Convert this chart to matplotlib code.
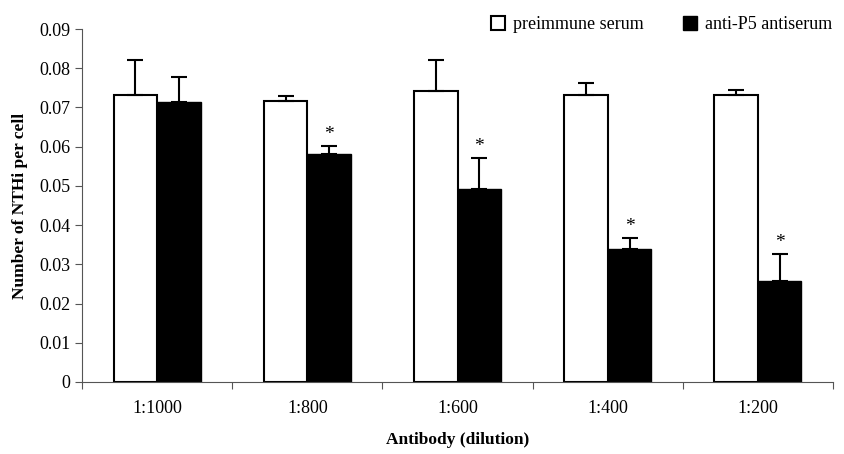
import numpy as np
import matplotlib
matplotlib.use('Agg')
import matplotlib.pyplot as plt

plt.rcParams['font.family'] = ['Liberation Serif', 'DejaVu Serif']

dilutions = ['1:1000', '1:800', '1:600', '1:400', '1:200']
preimmune = [0.0731, 0.0717, 0.0742, 0.0733, 0.0732]
preimmune_err = [0.0089, 0.0012, 0.0078, 0.0030, 0.0013]
anti_p5 = [0.0714, 0.0581, 0.0492, 0.0339, 0.0258]
anti_p5_err = [0.0064, 0.0021, 0.0079, 0.0029, 0.0069]
significant = [False, True, True, True, True]

x = np.arange(len(dilutions))
w = 0.29

fig = plt.figure(figsize=(8.44, 4.54), dpi=100)
ax = fig.add_axes([0.0972, 0.1586, 0.8898, 0.7774])

ekw = dict(elinewidth=1.5, capsize=6, capthick=1.5, ecolor='black')
ax.bar(x - w/2, preimmune, w, color='white', edgecolor='black', linewidth=1.5,
       yerr=[np.zeros(5), preimmune_err], error_kw=ekw, label='preimmune serum')
ax.bar(x + w/2, anti_p5, w, color='black', edgecolor='black', linewidth=1.0,
       yerr=[np.zeros(5), anti_p5_err], error_kw=ekw, label='anti-P5 antiserum')

for i in range(len(dilutions)):
    if significant[i]:
        ax.annotate('*', (x[i] + w/2, anti_p5[i] + anti_p5_err[i]),
                    xytext=(0, 2), textcoords='offset points',
                    ha='center', va='bottom', fontsize=14)

ax.set_xlim(-0.5, 4.5)
ax.set_ylim(0, 0.09)
ax.set_yticks(np.arange(0, 0.091, 0.01))
ax.set_yticklabels(['0'] + ['%.2f' % v for v in np.arange(0.01, 0.091, 0.01)])
ax.set_xticks(np.arange(-0.5, 4.6, 1))
ax.set_xticklabels([])
ax.set_xticks(x, minor=True)
ax.set_xticklabels(dilutions, minor=True)
ax.tick_params(axis='x', which='minor', length=0, pad=13, labelsize=13)
ax.tick_params(axis='x', which='major', length=5, color='#555555')
ax.tick_params(axis='y', length=5, color='#555555', labelsize=13)

for s in ['top', 'right']:
    ax.spines[s].set_visible(False)
for s in ['left', 'bottom']:
    ax.spines[s].set_color('#555555')

ax.set_ylabel('Number of NTHi per cell', fontsize=12.5, fontweight='bold', labelpad=8)
ax.set_xlabel('Antibody (dilution)', fontsize=12.5, fontweight='bold', labelpad=11)

fig.legend(loc='upper right', bbox_to_anchor=(1.005, 1.0), ncol=2, frameon=False,
           fontsize=13, handlelength=0.8, handleheight=0.8, columnspacing=2.2,
           handletextpad=0.4)

fig.savefig('out.png', dpi=100)
